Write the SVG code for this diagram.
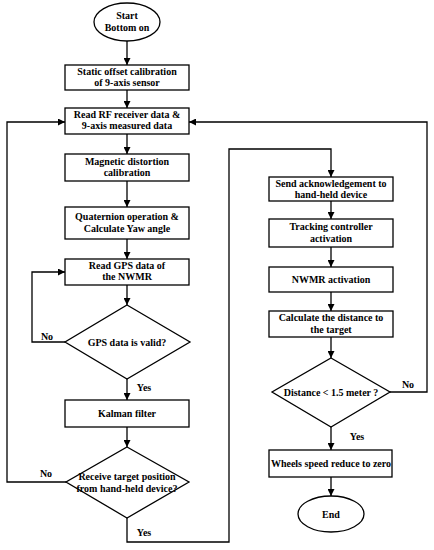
<svg xmlns="http://www.w3.org/2000/svg" width="434" height="550" viewBox="0 0 434 550">
<defs>
<marker id="ah" viewBox="0 0 10 10" refX="10" refY="5" markerWidth="7" markerHeight="7" markerUnits="userSpaceOnUse" orient="auto">
<path d="M0,0 L10,5 L0,10 z" fill="#000"/>
</marker>
<style>
.n{fill:#fff;stroke:#000;stroke-width:1.3}
.t{font-family:"Liberation Serif","Times New Roman",serif;font-weight:bold;font-size:10px;text-anchor:middle;fill:#000}
.c{fill:none;stroke:#000;stroke-width:1.3}
.a{marker-end:url(#ah)}
</style>
</defs>
<rect width="434" height="550" fill="#fff"/>
<g id="connectors">
<path class="c a" d="M127,41 V65"/>
<path class="c a" d="M127,90 V108"/>
<path class="c a" d="M127,134 V154"/>
<path class="c a" d="M127,181 V207"/>
<path class="c a" d="M127,239 V259"/>
<path class="c a" d="M127,285 V305"/>
<path class="c a" d="M65,342 H32 V272 H65"/>
<path class="c a" d="M127,379 V400"/>
<path class="c a" d="M127,427 V447"/>
<path class="c a" d="M66,482 H7 V122 H65"/>
<path class="c a" d="M127,518 V542 H229 V149 H331 V177"/>
<path class="c a" d="M331,201 V219"/>
<path class="c a" d="M331,247 V267"/>
<path class="c a" d="M331,292 V311"/>
<path class="c a" d="M331,337 V358"/>
<path class="c a" d="M390,392 H427 V122 H189"/>
<path class="c a" d="M331,427 V450"/>
<path class="c a" d="M331,477 V496"/>
<text class="t" x="47" y="340">No</text>
<text class="t" x="144" y="391">Yes</text>
<text class="t" x="46" y="477">No</text>
<text class="t" x="144" y="536">Yes</text>
<text class="t" x="408" y="388">No</text>
<text class="t" x="357" y="440">Yes</text>
</g>
<g id="start"><ellipse class="n" cx="127" cy="22" rx="33" ry="19"/><text class="t" x="127" y="19">Start</text><text class="t" x="127" y="31">Bottom on</text></g>
<g id="calib"><rect class="n" x="65" y="65" width="124" height="25"/><text class="t" x="127" y="74.5">Static offset calibration</text><text class="t" x="127" y="85.5">of 9-axis sensor</text></g>
<g id="readrf"><rect class="n" x="65" y="108" width="124" height="26"/><text class="t" x="127" y="118">Read RF receiver data &amp;</text><text class="t" x="127" y="129">9-axis measured data</text></g>
<g id="magnetic"><rect class="n" x="65" y="154" width="124" height="27"/><text class="t" x="127" y="165">Magnetic distortion</text><text class="t" x="127" y="176">calibration</text></g>
<g id="quaternion"><rect class="n" x="65" y="207" width="124" height="32"/><text class="t" x="127" y="220">Quaternion operation &amp;</text><text class="t" x="127" y="232">Calculate Yaw angle</text></g>
<g id="readgps"><rect class="n" x="65" y="259" width="124" height="26"/><text class="t" x="127" y="269">Read GPS data of</text><text class="t" x="127" y="280">the NWMR</text></g>
<g id="gpsvalid"><polygon class="n" points="127,305 190,342 127,379 65,342"/><text class="t" x="127" y="345.5">GPS data is valid?</text></g>
<g id="kalman"><rect class="n" x="65" y="400" width="124" height="27"/><text class="t" x="127" y="417">Kalman filter</text></g>
<g id="receive"><polygon class="n" points="127,447 189,482 127,518 66,482"/><text class="t" x="127" y="480">Receive target position</text><text class="t" x="127" y="492">from hand-held device?</text></g>
<g id="sendack"><rect class="n" x="269" y="177" width="124" height="24"/><text class="t" x="331" y="186.5">Send acknowledgement to</text><text class="t" x="331" y="197.5">hand-held device</text></g>
<g id="tracking"><rect class="n" x="269" y="219" width="124" height="28"/><text class="t" x="331" y="230">Tracking controller</text><text class="t" x="331" y="241.5">activation</text></g>
<g id="nwmr"><rect class="n" x="269" y="267" width="124" height="25"/><text class="t" x="331" y="283">NWMR activation</text></g>
<g id="calcdist"><rect class="n" x="269" y="311" width="124" height="26"/><text class="t" x="331" y="321">Calculate the distance to</text><text class="t" x="331" y="332.5">the target</text></g>
<g id="distance"><polygon class="n" points="331,358 390,392 331,427 272,392"/><text class="t" x="331" y="396">Distance &lt; 1.5 meter ?</text></g>
<g id="wheels"><rect class="n" x="269" y="450" width="123" height="27"/><text class="t" x="331" y="467">Wheels speed reduce to zero</text></g>
<g id="end"><ellipse class="n" cx="331" cy="514" rx="33" ry="18"/><text class="t" x="331" y="518">End</text></g>
</svg>
